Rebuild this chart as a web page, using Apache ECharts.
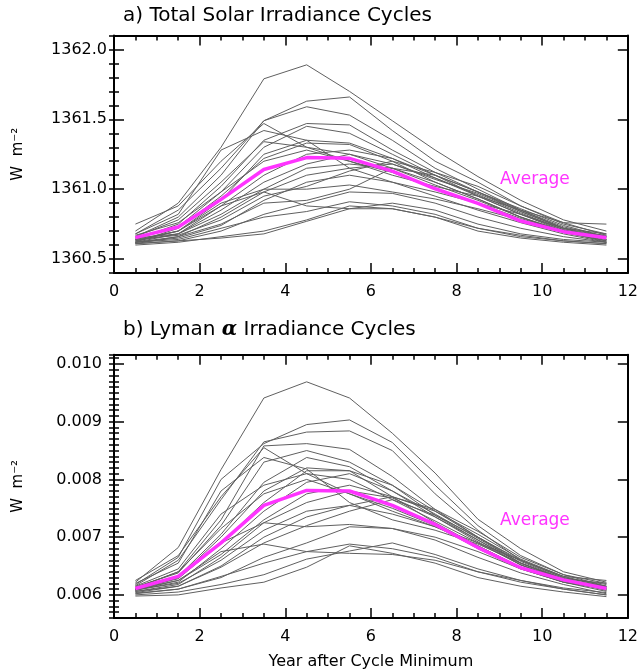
<!DOCTYPE html>
<html>
<head>
  <meta charset="utf-8" />
  <title>Solar Irradiance Cycles</title>
  <script src="https://cdn.jsdelivr.net/npm/echarts@6.0.0/dist/echarts.min.js"></script>
  <style>
    html, body { margin: 0; padding: 0; background: #fff; }
    #main { width: 641px; height: 671px; }
  </style>
</head>
<body>
  <div id="main"></div>
  <script type="text/javascript">
    // years after cycle minimum (bin centres)
    const years = [0.5, 1.5, 2.5, 3.5, 4.5, 5.5, 6.5, 7.5, 8.5, 9.5, 10.5, 11.5];
    const tsiTicks = [1360.5, 1361.0, 1361.5, 1362.0];
    const lymanTicks = [0.006, 0.007, 0.008, 0.009, 0.010];

    const tsiAverage = [1360.653, 1360.729, 1360.927, 1361.141, 1361.226, 1361.221, 1361.129, 1361.003, 1360.898, 1360.772, 1360.696, 1360.653];
    const lymanAverage = [0.00611, 0.00632, 0.00690, 0.00755, 0.00781, 0.00780, 0.00755, 0.00722, 0.00682, 0.00647, 0.00626, 0.00611];

    const tsiCycles = [
      [1360.70, 1360.90, 1361.30, 1361.79, 1361.89, 1361.70, 1361.49, 1361.28, 1361.09, 1360.92, 1360.78, 1360.70],
      [1360.68, 1360.85, 1361.15, 1361.49, 1361.63, 1361.66, 1361.42, 1361.20, 1361.05, 1360.88, 1360.75, 1360.68],
      [1360.66, 1360.80, 1361.10, 1361.49, 1361.59, 1361.53, 1361.35, 1361.15, 1361.00, 1360.85, 1360.73, 1360.66],
      [1360.75, 1360.88, 1361.20, 1361.47, 1361.30, 1361.20, 1361.10, 1361.02, 1360.95, 1360.85, 1360.76, 1360.75],
      [1360.68, 1360.82, 1361.28, 1361.42, 1361.35, 1361.15, 1361.05, 1360.98, 1360.90, 1360.82, 1360.72, 1360.68],
      [1360.64, 1360.75, 1361.02, 1361.35, 1361.47, 1361.46, 1361.28, 1361.12, 1360.98, 1360.84, 1360.72, 1360.64],
      [1360.65, 1360.73, 1360.98, 1361.30, 1361.45, 1361.40, 1361.25, 1361.10, 1360.95, 1360.82, 1360.70, 1360.65],
      [1360.63, 1360.70, 1360.92, 1361.25, 1361.35, 1361.33, 1361.22, 1361.08, 1360.96, 1360.83, 1360.71, 1360.64],
      [1360.62, 1360.72, 1360.95, 1361.22, 1361.33, 1361.32, 1361.20, 1361.05, 1360.93, 1360.80, 1360.69, 1360.63],
      [1360.66, 1360.78, 1361.05, 1361.34, 1361.30, 1361.25, 1361.15, 1361.03, 1360.92, 1360.80, 1360.70, 1360.66],
      [1360.67, 1360.76, 1360.98, 1361.20, 1361.28, 1361.20, 1361.12, 1361.00, 1360.90, 1360.79, 1360.70, 1360.67],
      [1360.64, 1360.70, 1360.88, 1361.10, 1361.25, 1361.28, 1361.22, 1361.10, 1360.98, 1360.85, 1360.72, 1360.66],
      [1360.63, 1360.68, 1360.85, 1361.05, 1361.18, 1361.25, 1361.18, 1361.07, 1360.97, 1360.84, 1360.72, 1360.64],
      [1360.65, 1360.68, 1360.82, 1361.00, 1361.15, 1361.18, 1361.15, 1361.10, 1360.98, 1360.86, 1360.74, 1360.66],
      [1360.62, 1360.66, 1360.80, 1360.98, 1361.10, 1361.15, 1361.18, 1361.08, 1360.95, 1360.82, 1360.71, 1360.63],
      [1360.64, 1360.67, 1360.78, 1360.95, 1361.02, 1361.13, 1361.20, 1361.12, 1361.02, 1360.88, 1360.76, 1360.67],
      [1360.63, 1360.70, 1360.90, 1361.00, 1361.00, 1361.03, 1360.98, 1360.93, 1360.86, 1360.78, 1360.69, 1360.63],
      [1360.62, 1360.65, 1360.74, 1360.92, 1361.05, 1361.10, 1361.05, 1360.95, 1360.85, 1360.76, 1360.68, 1360.62],
      [1360.61, 1360.66, 1360.75, 1360.90, 1360.92, 1361.00, 1361.15, 1361.05, 1360.93, 1360.80, 1360.70, 1360.62],
      [1360.62, 1360.68, 1360.88, 1360.98, 1360.88, 1360.86, 1360.86, 1360.80, 1360.72, 1360.66, 1360.63, 1360.61],
      [1360.61, 1360.63, 1360.70, 1360.82, 1360.90, 1360.98, 1360.97, 1360.90, 1360.80, 1360.72, 1360.66, 1360.62],
      [1360.62, 1360.64, 1360.72, 1360.80, 1360.84, 1360.91, 1360.88, 1360.82, 1360.72, 1360.67, 1360.63, 1360.61],
      [1360.60, 1360.62, 1360.66, 1360.70, 1360.78, 1360.88, 1360.86, 1360.80, 1360.70, 1360.65, 1360.62, 1360.60],
      [1360.61, 1360.63, 1360.65, 1360.68, 1360.77, 1360.86, 1360.90, 1360.85, 1360.75, 1360.68, 1360.64, 1360.62]
    ];

    const lymanCycles = [
      [0.00622, 0.00682, 0.00817, 0.00941, 0.00969, 0.00941, 0.00880, 0.00811, 0.00731, 0.00680, 0.00640, 0.00622],
      [0.00618, 0.00665, 0.00800, 0.00862, 0.00895, 0.00903, 0.00864, 0.00790, 0.00720, 0.00668, 0.00635, 0.00620],
      [0.00616, 0.00660, 0.00765, 0.00865, 0.00882, 0.00884, 0.00850, 0.00775, 0.00712, 0.00660, 0.00630, 0.00618],
      [0.00625, 0.00668, 0.00770, 0.00855, 0.00810, 0.00775, 0.00745, 0.00718, 0.00690, 0.00660, 0.00632, 0.00625],
      [0.00620, 0.00655, 0.00780, 0.00838, 0.00818, 0.00760, 0.00730, 0.00712, 0.00688, 0.00655, 0.00628, 0.00620],
      [0.00612, 0.00640, 0.00730, 0.00858, 0.00862, 0.00852, 0.00805, 0.00748, 0.00700, 0.00660, 0.00630, 0.00615],
      [0.00614, 0.00638, 0.00720, 0.00830, 0.00850, 0.00830, 0.00790, 0.00738, 0.00695, 0.00655, 0.00627, 0.00614],
      [0.00610, 0.00632, 0.00705, 0.00795, 0.00838, 0.00822, 0.00780, 0.00735, 0.00692, 0.00652, 0.00625, 0.00612],
      [0.00608, 0.00630, 0.00700, 0.00780, 0.00820, 0.00815, 0.00770, 0.00725, 0.00685, 0.00648, 0.00622, 0.00610],
      [0.00615, 0.00645, 0.00740, 0.00790, 0.00810, 0.00800, 0.00765, 0.00728, 0.00690, 0.00652, 0.00625, 0.00615],
      [0.00612, 0.00640, 0.00715, 0.00775, 0.00800, 0.00775, 0.00750, 0.00720, 0.00680, 0.00645, 0.00622, 0.00612],
      [0.00610, 0.00628, 0.00690, 0.00760, 0.00815, 0.00815, 0.00790, 0.00745, 0.00700, 0.00658, 0.00628, 0.00612],
      [0.00608, 0.00622, 0.00680, 0.00745, 0.00795, 0.00810, 0.00780, 0.00740, 0.00698, 0.00655, 0.00627, 0.00610],
      [0.00610, 0.00625, 0.00670, 0.00730, 0.00775, 0.00790, 0.00770, 0.00745, 0.00705, 0.00662, 0.00632, 0.00614],
      [0.00606, 0.00618, 0.00665, 0.00725, 0.00760, 0.00780, 0.00768, 0.00735, 0.00695, 0.00652, 0.00625, 0.00608],
      [0.00609, 0.00620, 0.00660, 0.00712, 0.00745, 0.00755, 0.00770, 0.00748, 0.00710, 0.00665, 0.00635, 0.00615],
      [0.00610, 0.00630, 0.00690, 0.00725, 0.00718, 0.00722, 0.00715, 0.00700, 0.00675, 0.00645, 0.00622, 0.00610],
      [0.00606, 0.00615, 0.00650, 0.00700, 0.00735, 0.00755, 0.00740, 0.00718, 0.00685, 0.00648, 0.00622, 0.00606],
      [0.00604, 0.00615, 0.00648, 0.00690, 0.00720, 0.00745, 0.00765, 0.00738, 0.00700, 0.00655, 0.00626, 0.00608],
      [0.00608, 0.00625, 0.00675, 0.00688, 0.00675, 0.00672, 0.00670, 0.00660, 0.00640, 0.00625, 0.00612, 0.00604],
      [0.00602, 0.00610, 0.00630, 0.00665, 0.00690, 0.00718, 0.00715, 0.00695, 0.00665, 0.00638, 0.00618, 0.00602],
      [0.00603, 0.00610, 0.00632, 0.00655, 0.00675, 0.00688, 0.00680, 0.00665, 0.00640, 0.00622, 0.00610, 0.00600],
      [0.00598, 0.00600, 0.00612, 0.00622, 0.00648, 0.00685, 0.00672, 0.00655, 0.00630, 0.00615, 0.00605, 0.00597],
      [0.00600, 0.00605, 0.00618, 0.00635, 0.00662, 0.00676, 0.00690, 0.00670, 0.00645, 0.00625, 0.00610, 0.00600]
    ];

    const FONT = 'DejaVu Sans';
    const MAGENTA = '#ff33ff';
    const black = { color: '#000', width: 1.5 };

    function xAxes(gridIndex, name) {
      const base = {
        type: 'value', gridIndex, min: 0, max: 12, interval: 2,
        splitLine: { show: false },
        axisLine: { onZero: false, lineStyle: { color: '#000', width: 2 } },
        axisTick: { inside: true, length: 10, lineStyle: black },
        minorTick: { show: true, splitNumber: 4, length: 5, lineStyle: black }
      };
      return [
        Object.assign({}, base, {
          position: 'bottom',
          axisLabel: { color: '#000', fontFamily: FONT, fontSize: 16, margin: 11 },
          name: name || '', nameLocation: 'middle', nameGap: 36,
          nameTextStyle: { color: '#000', fontFamily: FONT, fontSize: 16 }
        }),
        Object.assign({}, base, { position: 'top', axisLabel: { show: false } })
      ];
    }

    function yAxes(gridIndex, min, max, minorStep, ticks, digits, labelMargin) {
      const out = [];
      ['left', 'right'].forEach(pos => {
        out.push({
          type: 'value', gridIndex, position: pos, min, max,
          splitLine: { show: false },
          axisLine: { show: true, onZero: false, lineStyle: { color: '#000', width: 2 } },
          axisTick: { inside: true, length: 10, customValues: ticks, lineStyle: black },
          axisLabel: {
            show: pos === 'left', customValues: ticks, margin: labelMargin,
            color: '#000', fontFamily: FONT, fontSize: 16,
            formatter: v => v.toFixed(digits)
          },
          name: pos === 'left' ? 'W  m\u207b\u00b2' : '',
          nameLocation: 'middle', nameRotate: 90, nameGap: 88,
          nameTextStyle: { color: '#000', fontFamily: FONT, fontSize: 15 }
        });
        out.push({
          type: 'value', gridIndex, position: pos, min, max, interval: minorStep,
          splitLine: { show: false },
          axisLine: { show: false },
          axisTick: { inside: true, length: 5, lineStyle: black },
          axisLabel: { show: false }
        });
      });
      return out;
    }

    function cycleSeries(cycles, avg, xIndex, yIndex) {
      const list = cycles.map(c => ({
        type: 'line', xAxisIndex: xIndex, yAxisIndex: yIndex,
        data: years.map((x, i) => [x, c[i]]),
        symbol: 'none', silent: true,
        lineStyle: { color: '#606060', width: 1 }
      }));
      list.push({
        type: 'line', xAxisIndex: xIndex, yAxisIndex: yIndex,
        data: years.map((x, i) => [x, avg[i]]),
        symbol: 'none', silent: true, z: 5,
        lineStyle: { color: MAGENTA, width: 3.5 }
      });
      return list;
    }

    const chart = echarts.init(document.getElementById('main'));
    chart.setOption({
      animation: false,
      backgroundColor: '#fff',
      title: [
        {
          text: 'a) Total Solar Irradiance Cycles', left: 123, top: 6, padding: 0,
          textStyle: { color: '#000', fontFamily: FONT, fontSize: 20, fontWeight: 'normal' }
        },
        {
          text: 'b) Lyman {al|\u03b1} Irradiance Cycles', left: 123, top: 320, padding: 0,
          textStyle: {
            color: '#000', fontFamily: FONT, fontSize: 20, fontWeight: 'normal',
            rich: { al: { fontFamily: 'DejaVu Serif', fontStyle: 'italic', fontWeight: 'bold', fontSize: 20, color: '#000' } }
          }
        }
      ],
      grid: [
        { left: 114, top: 35.5, width: 515, height: 237.5 },
        { left: 114, top: 354.7, width: 515, height: 263.6 }
      ],
      xAxis: xAxes(0).concat(xAxes(1, 'Year after Cycle Minimum')),
      yAxis: yAxes(0, 1360.4, 1362.1, 0.1, tsiTicks, 1, 7)
        .concat(yAxes(1, 0.0056, 0.01016, 0.0001, lymanTicks, 3, 12)),
      graphic: [
        { type: 'text', left: 500, top: 171, style: { text: 'Average', fill: MAGENTA, font: '17px "DejaVu Sans"' } },
        { type: 'text', left: 500, top: 512, style: { text: 'Average', fill: MAGENTA, font: '17px "DejaVu Sans"' } }
      ],
      series: cycleSeries(tsiCycles, tsiAverage, 0, 0).concat(cycleSeries(lymanCycles, lymanAverage, 2, 4))
    });
  </script>
</body>
</html>
